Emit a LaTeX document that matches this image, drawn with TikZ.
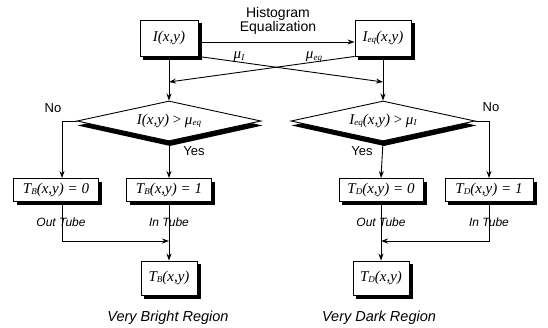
\documentclass[tikz,border=0pt]{standalone}
\usepackage{fontspec}
\setmainfont{Liberation Serif}
\newfontfamily\ar{Liberation Sans}
\usetikzlibrary{shapes.geometric,arrows.meta,calc}
\pgfdeclarelayer{bg}
\pgfsetlayers{bg,main}
\newcommand\sbx[1]{\raisebox{-1.2pt}{\fontsize{9}{9}\selectfont\itshape #1}}
\begin{document}
\begin{tikzpicture}[x=1pt,y=-1pt,line width=0.9pt,
  arr/.style={-{Stealth[length=7pt,width=5pt]}},
  box/.style={draw, fill=white, inner sep=0pt,
    font=\fontsize{15}{15}\selectfont\itshape},
  dia/.style={draw, fill=white, diamond, inner sep=0pt, aspect=4.6,
    minimum width=184pt, minimum height=40pt,
    font=\fontsize{15}{15}\selectfont\itshape},
  shd/.style={fill=black, draw=none},
  lab/.style={font=\ar\fontsize{13}{13}\selectfont},
  tube/.style={font=\ar\itshape\fontsize{12}{12}\selectfont},
  region/.style={font=\ar\itshape\fontsize{14.5}{14.5}\selectfont},
  mu/.style={font=\fontsize{15}{15}\selectfont\itshape}]
\useasboundingbox (0,0) rectangle (548,327);
% top boxes
\node[box, minimum width=58pt, minimum height=36pt] (I) at (169,38) {I(x,y)};
\node[box, minimum width=56pt, minimum height=36pt] (Ieq) at (383,38) {I\sbx{eq}(x,y)};
\node[lab, align=center, font=\ar\fontsize{14}{13.5}\selectfont] (he) at (278,21) {Histogram\\Equalization};
\draw[arr] ([yshift=-4pt]I.east) -- ([yshift=-4pt]Ieq.west);
% crossing lines
\coordinate (lj) at (169,82);
\coordinate (rj) at (383,82);
\node[mu] (muI) at (239,57) {μ\sbx{I}};
\node[mu] (mueq) at (314,57) {μ\sbx{eq}};
\draw[arr] (I.south east) -- (rj);
\draw[arr] (Ieq.south west) -- (lj);
% diamonds
\node[dia] (DL) at (169,121) {I(x,y) \upshape>\itshape\ μ\sbx{eq}};
\node[dia] (DR) at (383,121) {I\sbx{eq}(x,y) \upshape>\itshape\ μ\sbx{I}};
\draw[arr] (I.south) -- (DL.north);
\draw[arr] (Ieq.south) -- (DR.north);
\node[lab] (noL) at (53,108) {No};
\node[lab] (noR) at (491,107) {No};
\node[lab] (yesL) at (194,151) {Yes};
\node[lab] (yesR) at (362,151) {Yes};
% middle boxes
\node[box, minimum width=85pt, minimum height=23pt] (B0) at (56,190) {T\sbx{B}(x,y) = 0};
\node[box, minimum width=85pt, minimum height=23pt] (B1) at (169,190) {T\sbx{B}(x,y) = 1};
\node[box, minimum width=84pt, minimum height=23pt] (D0) at (381,190) {T\sbx{D}(x,y) = 0};
\node[box, minimum width=88pt, minimum height=23pt] (D1) at (489,190) {T\sbx{D}(x,y) = 1};
\draw[arr] (DL.west) -| ([xshift=6pt]B0.north);
\draw[arr] (DL.south) -- (B1.north);
\draw[arr] (DR.south) -- (D0.north);
\draw[arr] (DR.east) -| (D1.north);
% tube labels
\node[tube] (ot1) at (61,222) {Out Tube};
\node[tube] (it1) at (169,222) {In Tube};
\node[tube] (ot2) at (381,222) {Out Tube};
\node[tube] (it2) at (489,222) {In Tube};
% bottom boxes
\node[box, minimum width=56pt, minimum height=34pt] (TB) at (169,278) {T\sbx{B}(x,y)};
\node[box, minimum width=56pt, minimum height=34pt] (TD) at (381,278) {T\sbx{D}(x,y)};
\coordinate (ml) at (169,241);
\coordinate (mr) at (381,241);
\draw[arr] ([xshift=6pt]B0.south) |- (ml);
\draw[arr] (B1.south) -- (TB.north);
\draw[arr] (D1.south) |- (mr);
\draw[arr] (D0.south) -- (TD.north);
\node[region] (vb) at (168,318) {Very Bright Region};
\node[region] (vd) at (379,318) {Very Dark Region};
% shadows
\begin{pgfonlayer}{bg}
\foreach \n in {I,Ieq,B0,B1,D0,D1,TB,TD}
  \fill[shd] ([shift={(3.5pt,-3.5pt)}]\n.north west) rectangle ([shift={(3.5pt,-3.5pt)}]\n.south east);
\foreach \n in {DL,DR}
  \fill[shd] ([shift={(1pt,-4.5pt)}]\n.north) -- ([shift={(1pt,-4.5pt)}]\n.east) -- ([shift={(1pt,-4.5pt)}]\n.south) -- ([shift={(1pt,-4.5pt)}]\n.west) -- cycle;
\end{pgfonlayer}
\end{tikzpicture}
\end{document}
